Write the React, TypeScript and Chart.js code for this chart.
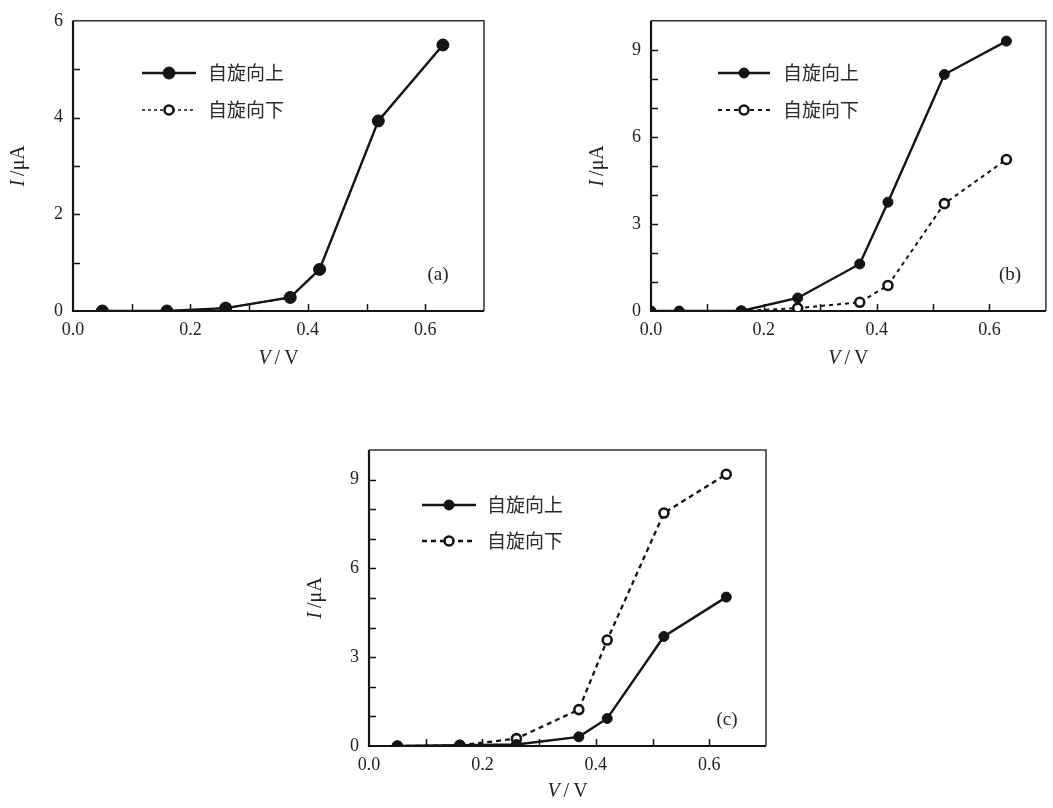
import React, { useEffect, useRef } from 'react';
import { Chart, registerables } from 'chart.js';

Chart.register(...registerables);

// ---------- data ----------
const VOLTS_A = [0.05, 0.16, 0.26, 0.37, 0.42, 0.52, 0.63];
const UP_A = [0, 0, 0.06, 0.28, 0.86, 3.93, 5.5];
const DOWN_A = [0, 0, 0.06, 0.28, 0.86, 3.93, 5.5];

const VOLTS_B_UP = [0, 0.05, 0.16, 0.26, 0.37, 0.42, 0.52, 0.63];
const UP_B = [0, 0, 0, 0.45, 1.62, 3.75, 8.15, 9.3];
const VOLTS_B_DOWN = [0.16, 0.26, 0.37, 0.42, 0.52, 0.63];
const DOWN_B = [0, 0.1, 0.3, 0.88, 3.7, 5.22];

const VOLTS_C = [0.05, 0.16, 0.26, 0.37, 0.42, 0.52, 0.63];
const UP_C = [0, 0.03, 0.05, 0.31, 0.93, 3.7, 5.03];
const DOWN_C = [0, 0.02, 0.25, 1.23, 3.58, 7.87, 9.18];

const X_TICKS = [0, 0.2, 0.4, 0.6];
const X_TICK_LABELS = ['0.0', '0.2', '0.4', '0.6'];
const X_MINOR = [0.1, 0.2, 0.3, 0.4, 0.5, 0.6];

const Y_TICKS_A = [0, 2, 4, 6];
const Y_TICK_LABELS_A = ['0', '2', '4', '6'];
const Y_MINOR_A = [1, 2, 3, 4, 5];

const Y_TICKS_BC = [0, 3, 6, 9];
const Y_TICK_LABELS_BC = ['0', '3', '6', '9'];
const Y_MINOR_BC = [1, 2, 3, 4, 5, 6, 7, 8, 9];

const SERIES = ['自旋向上', '自旋向下'];
const PANEL_LABELS = ['(a)', '(b)', '(c)'];

const INK = '#141414';
const SERIF = '"Liberation Serif", "DejaVu Serif", serif';

// ---------- decoration plugin ----------
const decorPlugin = {
  id: 'decor',
  beforeDatasetsDraw(chart: any, _a: any, o: any) {
    const { ctx, chartArea: ca } = chart;
    const xs = chart.scales.x;
    const ys = chart.scales.y;
    ctx.save();
    ctx.strokeStyle = INK;
    ctx.lineWidth = 1.5;
    ctx.beginPath();
    o.xMinor.forEach((v: number) => {
      const px = Math.round(xs.getPixelForValue(v)) + 0.5;
      ctx.moveTo(px, ca.bottom);
      ctx.lineTo(px, ca.bottom - 7);
    });
    o.yMinor.forEach((v: number) => {
      const py = Math.round(ys.getPixelForValue(v)) + 0.5;
      ctx.moveTo(ca.left, py);
      ctx.lineTo(ca.left + 7, py);
    });
    ctx.stroke();
    ctx.lineWidth = 1.5;
    ctx.strokeStyle = '#333';
    ctx.beginPath();
    ctx.moveTo(ca.left, ca.top);
    ctx.lineTo(ca.right, ca.top);
    ctx.lineTo(ca.right, ca.bottom);
    ctx.stroke();
    ctx.lineWidth = 2.2;
    ctx.strokeStyle = INK;
    ctx.beginPath();
    ctx.moveTo(ca.left, ca.top);
    ctx.lineTo(ca.left, ca.bottom);
    ctx.lineTo(ca.right, ca.bottom);
    ctx.stroke();
    ctx.restore();
  },
  afterDraw(chart: any, _a: any, o: any) {
    const { ctx, chartArea: ca } = chart;
    ctx.save();
    ctx.fillStyle = '#222';
    ctx.save();
    ctx.translate(o.yTitleX, (ca.top + ca.bottom) / 2);
    ctx.rotate(-Math.PI / 2);
    ctx.textBaseline = 'middle';
    ctx.textAlign = 'left';
    const fI = `italic 20px ${SERIF}`;
    const fR = `20px ${SERIF}`;
    ctx.font = fI;
    const wI = ctx.measureText('I').width;
    ctx.font = fR;
    const wR = ctx.measureText('/μA').width;
    const gap = 4;
    const tot = wI + gap + wR;
    ctx.font = fI;
    ctx.fillText('I', -tot / 2, 0);
    ctx.font = fR;
    ctx.fillText('/μA', -tot / 2 + wI + gap, 0);
    ctx.restore();

    {
      const cx = (ca.left + ca.right) / 2;
      const cy = ca.bottom + o.xTitleDy;
      ctx.textBaseline = 'middle';
      ctx.textAlign = 'left';
      ctx.font = fI;
      const w1 = ctx.measureText('V').width;
      ctx.font = fR;
      const w2 = ctx.measureText('/').width;
      const w3 = ctx.measureText('V').width;
      const g = 4;
      const t = w1 + g + w2 + g + w3;
      let x = cx - t / 2;
      ctx.font = fI;
      ctx.fillText('V', x, cy);
      x += w1 + g;
      ctx.font = fR;
      ctx.fillText('/', x, cy);
      x += w2 + g;
      ctx.fillText('V', x, cy);
    }

    ctx.font = `19px ${SERIF}`;
    ctx.textAlign = 'center';
    ctx.textBaseline = 'middle';
    ctx.fillText(o.panelLabel, o.panelX, o.panelY);

    const ds = chart.data.datasets;
    o.legendRows.forEach((rowY: number, i: number) => {
      const d = ds[i];
      ctx.save();
      ctx.strokeStyle = INK;
      ctx.lineWidth = d.borderWidth;
      ctx.setLineDash(d.borderDash || []);
      ctx.beginPath();
      ctx.moveTo(o.legendX0, rowY);
      ctx.lineTo(o.legendX1, rowY);
      ctx.stroke();
      ctx.setLineDash([]);
      const mx = (o.legendX0 + o.legendX1) / 2;
      ctx.beginPath();
      ctx.arc(mx, rowY, d.pointRadius, 0, Math.PI * 2);
      ctx.fillStyle = d.pointBackgroundColor;
      ctx.fill();
      ctx.lineWidth = d.pointBorderWidth;
      ctx.strokeStyle = d.pointBorderColor;
      ctx.stroke();
      ctx.restore();
      ctx.fillStyle = '#2a2a2a';
      ctx.font = '19px "Noto Sans CJK SC", sans-serif';
      ctx.textAlign = 'left';
      ctx.textBaseline = 'middle';
      ctx.fillText(SERIES[i], o.legendTextX, rowY);
    });
    ctx.restore();
  },
};

type Panel = {
  left: number;
  top: number;
  W: number;
  H: number;
  area: { l: number; t: number; r: number; b: number };
  yMax: number;
  yTicks: number[];
  yLabels: string[];
  yMinor: number[];
  up: { x: number; y: number }[];
  down: { x: number; y: number }[];
  upRadius: number;
  downDash: number[];
  downWidth: number;
  decor: any;
};

function pts(xs: number[], ys: number[]) {
  return xs.map((x, i) => ({ x, y: ys[i] }));
}

const PANELS: Panel[] = [
  {
    left: 0,
    top: 0,
    W: 520,
    H: 380,
    area: { l: 73, t: 14, r: 484, b: 311 },
    yMax: 6,
    yTicks: Y_TICKS_A,
    yLabels: Y_TICK_LABELS_A,
    yMinor: Y_MINOR_A,
    up: pts(VOLTS_A, UP_A),
    down: pts(VOLTS_A, DOWN_A),
    upRadius: 6,
    downDash: [3, 3],
    downWidth: 1.6,
    decor: {
      yTitleX: 19,
      xTitleDy: 48,
      panelLabel: PANEL_LABELS[0],
      panelX: 438,
      panelY: 275,
      legendRows: [73, 110],
      legendX0: 142,
      legendX1: 196,
      legendTextX: 208,
    },
  },
  {
    left: 540,
    top: 0,
    W: 513,
    H: 380,
    area: { l: 111, t: 14, r: 511, b: 311 },
    yMax: 10,
    yTicks: Y_TICKS_BC,
    yLabels: Y_TICK_LABELS_BC,
    yMinor: Y_MINOR_BC,
    up: pts(VOLTS_B_UP, UP_B),
    down: pts(VOLTS_B_DOWN, DOWN_B),
    upRadius: 5,
    downDash: [4, 4],
    downWidth: 2,
    decor: {
      yTitleX: 58,
      xTitleDy: 48,
      panelLabel: PANEL_LABELS[1],
      panelX: 470,
      panelY: 275,
      legendRows: [73, 110],
      legendX0: 178,
      legendX1: 230,
      legendTextX: 243,
    },
  },
  {
    left: 290,
    top: 420,
    W: 500,
    H: 388,
    area: { l: 79, t: 30, r: 476, b: 326 },
    yMax: 10,
    yTicks: Y_TICKS_BC,
    yLabels: Y_TICK_LABELS_BC,
    yMinor: Y_MINOR_BC,
    up: pts(VOLTS_C, UP_C),
    down: pts(VOLTS_C, DOWN_C),
    upRadius: 5,
    downDash: [5, 4],
    downWidth: 2.3,
    decor: {
      yTitleX: 26,
      xTitleDy: 46,
      panelLabel: PANEL_LABELS[2],
      panelX: 437,
      panelY: 300,
      legendRows: [85, 121],
      legendX0: 132,
      legendX1: 186,
      legendTextX: 197,
    },
  },
];

function PanelChart({ p }: { p: Panel }) {
  const ref = useRef<HTMLCanvasElement | null>(null);
  useEffect(() => {
    if (!ref.current) return;
    const { area, W, H } = p;
    const tickFont = { family: SERIF, size: 18 };
    const chart = new Chart(ref.current, {
      type: 'line',
      data: {
        datasets: [
          {
            label: SERIES[0],
            data: p.up,
            borderColor: INK,
            borderWidth: 2.4,
            pointRadius: p.upRadius,
            pointBackgroundColor: INK,
            pointBorderColor: INK,
            pointBorderWidth: 1,
            tension: 0,
          } as any,
          {
            label: SERIES[1],
            data: p.down,
            borderColor: INK,
            borderWidth: p.downWidth,
            borderDash: p.downDash,
            pointRadius: 4.5,
            pointBackgroundColor: '#ffffff',
            pointBorderColor: INK,
            pointBorderWidth: 2.6,
            tension: 0,
          } as any,
        ],
      },
      options: {
        responsive: false,
        animation: false,
        devicePixelRatio: 1,
        layout: { padding: { left: 0, top: area.t, right: W - area.r, bottom: 0 } },
        plugins: {
          legend: { display: false },
          tooltip: { enabled: false },
          decor: { ...p.decor, xMinor: X_MINOR, yMinor: p.yMinor },
        } as any,
        scales: {
          x: {
            type: 'linear',
            min: 0,
            max: 0.7,
            grid: { display: false, drawTicks: false },
            border: { display: false },
            ticks: {
              padding: 8,
              font: tickFont,
              color: '#222',
              maxRotation: 0,
              callback: (_v: any, i: number) => X_TICK_LABELS[i],
            },
            afterBuildTicks: (s: any) => {
              s.ticks = X_TICKS.map((v) => ({ value: v }));
            },
            afterFit: (s: any) => {
              s.height = H - area.b;
            },
          },
          y: {
            type: 'linear',
            min: 0,
            max: p.yMax,
            grid: { display: false, drawTicks: false },
            border: { display: false },
            ticks: {
              padding: 10,
              font: tickFont,
              color: '#222',
              callback: (_v: any, i: number) => p.yLabels[i],
            },
            afterBuildTicks: (s: any) => {
              s.ticks = p.yTicks.map((v) => ({ value: v }));
            },
            afterFit: (s: any) => {
              s.width = area.l;
            },
          },
        },
      } as any,
      plugins: [decorPlugin as any],
    });
    return () => chart.destroy();
  }, [p]);
  return (
    <canvas
      ref={ref}
      width={p.W}
      height={p.H}
      style={{ position: 'absolute', left: p.left, top: p.top, width: p.W, height: p.H }}
    />
  );
}

export default function App() {
  return (
    <div
      style={{
        position: 'absolute',
        left: 0,
        top: 0,
        width: 1053,
        height: 808,
        background: '#ffffff',
        overflow: 'hidden',
      }}
    >
      {PANELS.map((p, i) => (
        <PanelChart key={i} p={p} />
      ))}
    </div>
  );
}
